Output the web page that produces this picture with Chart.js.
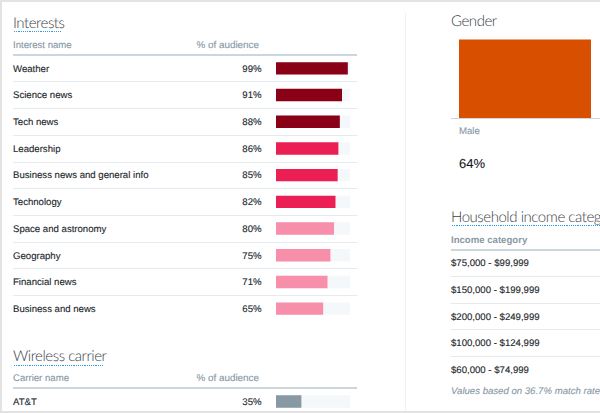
<!DOCTYPE html>
<html><head><meta charset="utf-8">
<script src="https://cdn.jsdelivr.net/npm/chart.js@4"></script>
<style>
html,body{margin:0;padding:0;background:#fff;width:600px;height:413px;overflow:hidden}
body{position:relative;font-family:"Liberation Sans",Arial,sans-serif;color:#22272b;font-size:9.6px;text-rendering:geometricPrecision;-webkit-text-stroke:.12px currentColor}
.t{position:absolute;white-space:nowrap;line-height:14px}
.h{font-family:Lato,"Liberation Sans",sans-serif;font-weight:300;font-size:15px;letter-spacing:-.45px;color:#3a4147;line-height:20px;-webkit-text-stroke:0}
.c{color:#8899a6;font-weight:400}
.l{position:absolute;height:1px;background:#e6ebef}
.hl{position:absolute;height:2px;background:#ccd6dd}
.u{position:absolute;height:1px;background:repeating-linear-gradient(90deg,#2a9df0 0 1.2px,transparent 1.2px 2.2px)}
.f{position:absolute;background:#e3e3e3}
canvas{position:absolute}
</style></head><body>
<div id="root"></div>
<canvas id="interestChart" style="left:276px;top:55px"></canvas>
<canvas id="carrierChart" style="left:276px;top:388px"></canvas>
<canvas id="genderChart" style="left:459px;top:-4px"></canvas>
<script>
const interestNames=["Weather","Science news","Tech news","Leadership","Business news and general info","Technology","Space and astronomy","Geography","Financial news","Business and news"];
const interestValues=[99,91,88,86,85,82,80,75,71,65];
const interestColors=["#8a0016","#8a0016","#8a0016","#ec1f54","#ec1f54","#ec1f54","#f78fab","#f78fab","#f78fab","#f78fab"];
const interestTrack=[102,102,102,102,102,102,102,102,102,102];
const carrierNames=["AT&T"];
const carrierValues=[35];
const carrierColors=["#8899a6"];
const carrierTrack=[102];
const genderNames=["Male"];
const genderValues=[64];
const incomeNames=["$75,000 - $99,999","$150,000 - $199,999","$200,000 - $249,999","$100,000 - $124,999","$60,000 - $74,999"];

const root=document.getElementById('root');
function add(cls,css,text){const d=document.createElement('div');d.className=cls;d.style.cssText=css;if(text!==undefined)d.textContent=text;root.appendChild(d);return d;}
function text(x,cy,s,cls,extra){add('t '+(cls||''),`left:${x}px;top:${cy-5.8}px;${extra||''}`,s);}
function rtext(rx,cy,s,cls,extra){add('t '+(cls||''),`right:${600-rx}px;top:${cy-5.8}px;${extra||''}`,s);}
// frame
add('f','left:0;top:0;width:600px;height:2px');
add('f','left:0;top:0;width:2px;height:413px');
add('f','left:0;top:411px;width:600px;height:2px');
add('f','left:405px;top:13px;width:1px;height:398px;background:#f0f2f4');
// Interests
add('t h','left:13px;top:13px','Interests');
add('u','left:14px;top:30.5px;width:48px');
text(13,44.5,'Interest name','c');
rtext(259,44.5,'% of audience','c','font-size:9.9px');
add('hl','left:13px;top:53.5px;width:344px');
const pitch=26.7;
interestNames.forEach((n,i)=>{
  const cy=68.4+i*pitch;
  text(13,cy,n);
  rtext(261.5,cy,interestValues[i]+'%');
  if(i<interestNames.length-1)add('l',`left:13px;top:${Math.round(cy+13)}px;width:344px`);
});
// Wireless
add('t h','left:13px;top:346px','Wireless carrier');
add('u','left:14px;top:364.5px;width:90px');
text(13,378,'Carrier name','c');
rtext(259,378,'% of audience','c','font-size:9.9px');
add('hl','left:13px;top:387px;width:344px');
carrierNames.forEach((n,i)=>{text(13,401.8,n);rtext(261.5,401.8,carrierValues[i]+'%');});
// Gender
add('t h','left:451px;top:11px','Gender');
add('hl','left:451px;top:118px;width:149px;height:1px');
text(459,131,genderNames[0],'c');
add('t','left:459px;top:156px;font-size:13px;line-height:16px;font-weight:400;color:#14171a;-webkit-text-stroke:.1px #14171a',genderValues[0]+'%');
// Income
add('t h','left:451px;top:207px','Household income categ');
add('u','left:452px;top:225px;width:148px');
text(451,239.5,'Income category','c','font-weight:700;-webkit-text-stroke:0;');
add('hl','left:451px;top:248.5px;width:149px');
incomeNames.forEach((n,i)=>{
  const cy=263.2+i*26.6;
  text(451,cy,n);
  if(i<incomeNames.length-1)add('l',`left:451px;top:${Math.round(cy+13)}px;width:149px`);
});
text(451,391,'Values based on 36.7% match rate','c','font-style:italic;');

function barChart(id,w,h,names,values,colors,track){
  const el=document.getElementById(id);el.width=w;el.height=h;el.style.width=w+'px';el.style.height=h+'px';
  new Chart(el,{type:'bar',data:{labels:names,datasets:[
    {data:values,backgroundColor:colors,order:1,grouped:false,barPercentage:12.4/26.7,categoryPercentage:1},
    {data:track,backgroundColor:'#f5f8fa',order:2,grouped:false,barPercentage:12.4/26.7,categoryPercentage:1}
  ]},options:{indexAxis:'y',responsive:false,animation:false,layout:{padding:0},
    plugins:{legend:{display:false},tooltip:{enabled:false}},
    scales:{x:{display:false,min:0,max:102},y:{display:false}}}});
}
barChart('interestChart',74,Math.round(pitch*interestNames.length),interestNames,interestValues,interestColors,interestTrack);
barChart('carrierChart',74,27,carrierNames,carrierValues,carrierColors,carrierTrack);
(function(){
  const el=document.getElementById('genderChart');el.width=132;el.height=122;el.style.width='132px';el.style.height='122px';
  new Chart(el,{type:'bar',data:{labels:genderNames,datasets:[{data:genderValues,backgroundColor:'#d94f00',barPercentage:1,categoryPercentage:1}]},
   options:{responsive:false,animation:false,layout:{padding:0},plugins:{legend:{display:false},tooltip:{enabled:false}},
   scales:{x:{display:false},y:{display:false,min:0,max:100}}}});
})();
</script></body></html>
